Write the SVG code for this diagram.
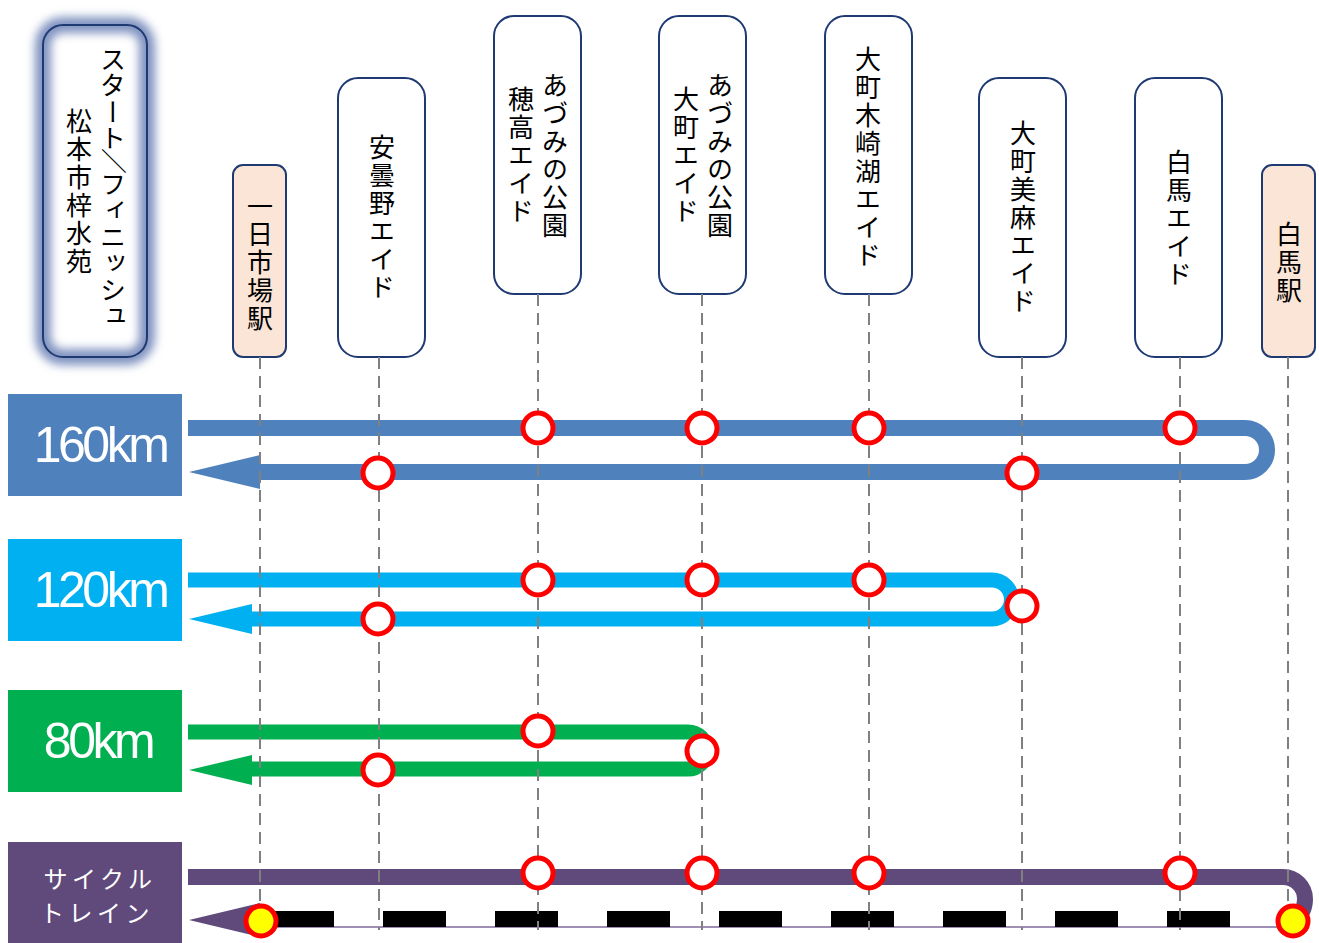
<svg xmlns="http://www.w3.org/2000/svg" width="1319" height="943" viewBox="0 0 1319 943">
<defs>
<style>
.node{fill:#FFFFFF;stroke:#1F3A73;stroke-width:2}
.station{fill:#FBE5D6;stroke:#1F3A73;stroke-width:2}
.vt{font-family:"Noto Sans CJK JP","Noto Sans",sans-serif;font-size:26px;fill:#000;writing-mode:vertical-rl;text-anchor:middle;letter-spacing:2px}
.vs{font-family:"Noto Sans CJK JP","Noto Sans",sans-serif;font-size:26px;fill:#000;writing-mode:vertical-rl;text-anchor:start;letter-spacing:0.5px}
.km{font-family:"Liberation Sans",Arial,sans-serif;font-size:50px;fill:#FFF;text-anchor:middle;letter-spacing:-3.5px}
.ct{font-family:"Noto Sans CJK JP","Noto Sans",sans-serif;font-size:24px;fill:#FFF;text-anchor:middle;letter-spacing:4.5px}
.dash{stroke:#808080;stroke-width:2;stroke-dasharray:12 7;fill:none}
.aid{fill:#FFFFFF;stroke:#FF0000;stroke-width:5}
.stn{fill:#FFFF00;stroke:#FF0000;stroke-width:5}
.trk{fill:none}
</style>
<filter id="glow" x="-40%" y="-15%" width="180%" height="130%">
<feGaussianBlur stdDeviation="5"/>
</filter>
</defs>
<rect width="1319" height="943" fill="#FFFFFF"/>

<!-- nodes -->
<g id="n-start">
<rect x="43" y="25" width="104" height="332" rx="20" fill="none" stroke="#7F92BF" stroke-width="16" filter="url(#glow)"/>
<rect x="43" y="25" width="104" height="332" rx="20" class="node" style="fill:none"/>
<text class="vs" x="113" y="46">スタート</text>
<text x="113" y="170" transform="rotate(90 113 161)" font-family="Noto Sans CJK JP, Noto Sans, sans-serif" font-size="26" text-anchor="middle" fill="#000">／</text>
<text class="vs" x="113" y="171">フィニッシュ</text>
<text class="vt" x="79" y="192">松本市梓水苑</text>
</g>
<g id="n-ichinichiba">
<rect x="233" y="165" width="53" height="192" rx="10" class="station"/>
<text class="vt" x="260" y="263">一日市場駅</text>
</g>
<g id="n-azumino">
<rect x="338" y="78" width="87" height="279" rx="20" class="node"/>
<text class="vt" x="382" y="218">安曇野エイド</text>
</g>
<g id="n-hotaka">
<rect x="494" y="16" width="87" height="278" rx="20" class="node"/>
<text class="vt" x="555" y="156">あづみの公園</text>
<text class="vt" x="521" y="156">穂高エイド</text>
</g>
<g id="n-omachi">
<rect x="659" y="16" width="87" height="278" rx="20" class="node"/>
<text class="vt" x="720" y="156">あづみの公園</text>
<text class="vt" x="686" y="156">大町エイド</text>
</g>
<g id="n-kizaki">
<rect x="825" y="16" width="87" height="278" rx="20" class="node"/>
<text class="vt" x="868" y="158">大町木崎湖エイド</text>
</g>
<g id="n-miasa">
<rect x="979" y="78" width="87" height="279" rx="20" class="node"/>
<text class="vt" x="1023" y="218">大町美麻エイド</text>
</g>
<g id="n-hakuba-aid">
<rect x="1135" y="78" width="87" height="279" rx="20" class="node"/>
<text class="vt" x="1179" y="219">白馬エイド</text>
</g>
<g id="n-hakuba-st">
<rect x="1262" y="165" width="53" height="192" rx="10" class="station"/>
<text class="vt" x="1289" y="263">白馬駅</text>
</g>

<!-- course labels -->
<g id="l-160">
<rect x="8" y="394" width="174" height="102" fill="#4F81BD"/>
<text class="km" x="100" y="462">160km</text>
</g>
<g id="l-120">
<rect x="8" y="539" width="174" height="102" fill="#00B0F0"/>
<text class="km" x="100" y="607">120km</text>
</g>
<g id="l-80">
<rect x="8" y="690" width="174" height="102" fill="#00B050"/>
<text class="km" x="98" y="758">80km</text>
</g>
<g id="l-cycle">
<rect x="8" y="842" width="174" height="101" fill="#604A7B"/>
<text class="ct" x="100" y="888">サイクル</text>
<text class="ct" x="97" y="922">トレイン</text>
</g>

<!-- course tracks -->
<g id="tracks">
<path class="trk" d="M188,428 H1245 A22,22 0 0 1 1245,472 H259" stroke="#4F81BD" stroke-width="16"/>
<polygon points="189,472 260,455 260,489" fill="#4F81BD"/>
<path class="trk" d="M188,580 H992 A19.5,19.5 0 0 1 992,619 H251" stroke="#00B0F0" stroke-width="15"/>
<polygon points="189,619 252,604 252,634" fill="#00B0F0"/>
<path class="trk" d="M188,732 H688 A18.5,18.5 0 0 1 688,769 H251" stroke="#00B050" stroke-width="15"/>
<polygon points="189,770 252,755 252,785" fill="#00B050"/>
<path class="trk" d="M188,877 H1283 A22,22 0 0 1 1305,899 Q1305,912 1295,920" stroke="#604A7B" stroke-width="16"/>
<polygon points="189,920 260,903 260,937" fill="#604A7B"/>
<path d="M255,927 H1293" stroke="#7F6A9B" stroke-width="1.5" fill="none"/>
<g fill="#000000">
<rect x="270" y="911" width="64" height="16"/>
<rect x="383" y="911" width="63" height="16"/>
<rect x="495" y="911" width="63" height="16"/>
<rect x="607" y="911" width="63" height="16"/>
<rect x="719" y="911" width="63" height="16"/>
<rect x="831" y="911" width="63" height="16"/>
<rect x="943" y="911" width="63" height="16"/>
<rect x="1055" y="911" width="63" height="16"/>
<rect x="1167" y="911" width="63" height="16"/>
</g>
</g>

<!-- connectors -->
<g id="connectors">
<path class="dash" d="M260,357 V930"/>
<path class="dash" d="M379,357 V930"/>
<path class="dash" d="M538,294 V930"/>
<path class="dash" d="M702,294 V930"/>
<path class="dash" d="M869,294 V930"/>
<path class="dash" d="M1022,357 V930"/>
<path class="dash" d="M1180,357 V930"/>
<path class="dash" d="M1288,357 V910"/>
</g>

<!-- aid stations on courses -->
<g id="stops">
<circle class="aid" cx="538" cy="428" r="15"/>
<circle class="aid" cx="702" cy="428" r="15"/>
<circle class="aid" cx="869" cy="428" r="15"/>
<circle class="aid" cx="1180" cy="428" r="15"/>
<circle class="aid" cx="378" cy="473" r="15"/>
<circle class="aid" cx="1022" cy="473" r="15"/>

<circle class="aid" cx="538" cy="580" r="15"/>
<circle class="aid" cx="702" cy="580" r="15"/>
<circle class="aid" cx="869" cy="580" r="15"/>
<circle class="aid" cx="378" cy="619" r="15"/>
<circle class="aid" cx="1022" cy="606" r="15"/>

<circle class="aid" cx="538" cy="731" r="15"/>
<circle class="aid" cx="378" cy="770" r="15"/>
<circle class="aid" cx="702" cy="751" r="15"/>

<circle class="aid" cx="538" cy="873" r="15"/>
<circle class="aid" cx="702" cy="873" r="15"/>
<circle class="aid" cx="869" cy="873" r="15"/>
<circle class="aid" cx="1180" cy="873" r="15"/>
<circle class="stn" cx="261" cy="921" r="15"/>
<circle class="stn" cx="1293" cy="921" r="15"/>
</g>
</svg>
